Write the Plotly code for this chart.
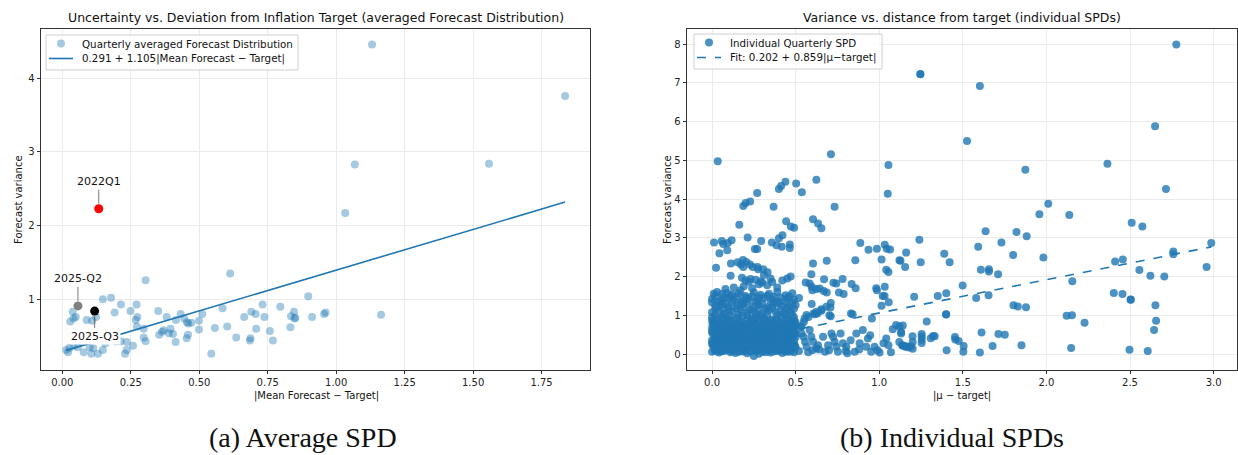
import plotly.graph_objects as go

BLUE = "#1f77b4"
FONT = "DejaVu Sans"

# ---------------- Left panel: averaged forecast distribution ----------------
avg_points = [
    (0.304, 1.26), (0.613, 1.35), (0.148, 1.00), (0.178, 1.02), (0.214, 0.93),
    (0.271, 0.93), (0.038, 0.83), (0.049, 0.76), (0.041, 0.74), (0.029, 0.70),
    (0.089, 0.72), (0.109, 0.71), (0.123, 0.76), (0.191, 0.82), (0.249, 0.84),
    (0.274, 0.76), (0.268, 0.72), (0.272, 0.63), (0.297, 0.60), (0.350, 0.84),
    (0.381, 0.76), (0.415, 0.72), (0.432, 0.80), (0.445, 0.74), (0.455, 0.69),
    (0.471, 0.68), (0.499, 0.71), (0.511, 0.80), (0.585, 0.88), (0.664, 0.76),
    (0.690, 0.83), (0.706, 0.80), (0.731, 0.93), (0.738, 0.76), (0.796, 0.90),
    (0.846, 0.83), (0.835, 0.77), (0.851, 0.75), (0.898, 1.04), (0.912, 0.76),
    (0.956, 0.80), (0.961, 0.82), (0.833, 0.62), (0.758, 0.57), (0.769, 0.44),
    (0.708, 0.60), (0.687, 0.47), (0.685, 0.44), (0.635, 0.48), (0.602, 0.63),
    (0.557, 0.61), (0.544, 0.26), (0.499, 0.59), (0.460, 0.67), (0.459, 0.52),
    (0.454, 0.47), (0.414, 0.42), (0.404, 0.53), (0.395, 0.60), (0.389, 0.54),
    (0.370, 0.58), (0.364, 0.56), (0.354, 0.52), (0.304, 0.43), (0.297, 0.48),
    (0.258, 0.37), (0.235, 0.42), (0.235, 0.31), (0.229, 0.26), (0.213, 0.43),
    (0.195, 0.43), (0.157, 0.40), (0.148, 0.31), (0.130, 0.26), (0.113, 0.34),
    (0.106, 0.26), (0.100, 0.35), (0.078, 0.28), (0.056, 0.35), (0.041, 0.37),
    (0.026, 0.34), (0.021, 0.28), (0.014, 0.31), (1.131, 4.46), (1.836, 3.76),
    (1.068, 2.83), (1.558, 2.84), (1.033, 2.17), (1.164, 0.79), (0.848, 0.74),
    (0.175, 0.45), (0.100, 0.44), (0.070, 0.42),
]
avg_x = [p[0] for p in avg_points]
avg_y = [p[1] for p in avg_points]

hl_labels = ["2022Q1", "2025-Q2", "2025-Q3"]
hl_x = [0.133, 0.057, 0.118]
hl_y = [2.23, 0.91, 0.84]
hl_colors = ["#ff0000", "#808080", "#000000"]
hl_offsets = [-27, -27, 25]

fit_avg_a, fit_avg_b = 0.291, 1.105
avg_legend = ["Quarterly averaged Forecast Distribution", "0.291 + 1.105|Mean Forecast \u2212 Target|"]

# ---------------- Right panel: individual SPDs ----------------
spd_dense = [
    (0.00, 0.06), (0.04, 0.04), (0.07, 0.08), (0.11, 0.05), (0.14, 0.03), (0.18, 0.07), (0.21, 0.02), (0.25, -0.05),
    (0.28, 0.01), (0.32, 0.05), (0.35, 0.04), (0.39, 0.08), (0.42, 0.03), (0.46, 0.06), (0.49, 0.05),
    (0.02, 0.12), (0.055, 0.10), (0.09, 0.14), (0.125, 0.11), (0.16, 0.13), (0.195, 0.09), (0.23, 0.12),
    (0.265, 0.10), (0.30, 0.14), (0.335, 0.11), (0.37, 0.13), (0.405, 0.12), (0.44, 0.10), (0.475, 0.13),
    (0.01, 0.19), (0.05, 0.22), (0.08, 0.17), (0.12, 0.21), (0.15, 0.24), (0.19, 0.18), (0.23, 0.20), (0.26, 0.16),
    (0.30, 0.23), (0.33, 0.19), (0.37, 0.21), (0.40, 0.17), (0.44, 0.22), (0.47, 0.20), (0.50, 0.18),
    (0.00, 0.28), (0.035, 0.26), (0.07, 0.30), (0.105, 0.27), (0.14, 0.29), (0.175, 0.25), (0.21, 0.28),
    (0.245, 0.30), (0.28, 0.26), (0.315, 0.29), (0.35, 0.27), (0.385, 0.30), (0.42, 0.25), (0.455, 0.28), (0.49, 0.27),
    (0.00, 0.36), (0.03, 0.33), (0.07, 0.38), (0.10, 0.34), (0.14, 0.36), (0.17, 0.32), (0.21, 0.37), (0.24, 0.35),
    (0.28, 0.33), (0.31, 0.38), (0.35, 0.34), (0.38, 0.36), (0.42, 0.32), (0.45, 0.37), (0.49, 0.35),
    (0.015, 0.43), (0.05, 0.41), (0.085, 0.45), (0.12, 0.42), (0.155, 0.44), (0.19, 0.40), (0.225, 0.43),
    (0.26, 0.45), (0.295, 0.41), (0.33, 0.44), (0.365, 0.42), (0.40, 0.45), (0.435, 0.40), (0.47, 0.43), (0.50, 0.44),
    (0.02, 0.50), (0.05, 0.48), (0.09, 0.52), (0.12, 0.49), (0.16, 0.51), (0.19, 0.47), (0.23, 0.53), (0.27, 0.50),
    (0.30, 0.48), (0.34, 0.52), (0.37, 0.49), (0.41, 0.51), (0.44, 0.47), (0.48, 0.50), (0.50, 0.53),
    (0.00, 0.58), (0.035, 0.56), (0.07, 0.60), (0.105, 0.57), (0.14, 0.59), (0.175, 0.55), (0.21, 0.58),
    (0.245, 0.60), (0.28, 0.56), (0.315, 0.59), (0.35, 0.57), (0.385, 0.60), (0.42, 0.55), (0.455, 0.58), (0.49, 0.57),
    (0.00, 0.66), (0.04, 0.63), (0.07, 0.67), (0.11, 0.64), (0.14, 0.66), (0.18, 0.62), (0.22, 0.68), (0.25, 0.65),
    (0.29, 0.63), (0.32, 0.67), (0.36, 0.64), (0.39, 0.66), (0.43, 0.62), (0.46, 0.65), (0.49, 0.67),
    (0.015, 0.73), (0.05, 0.71), (0.085, 0.75), (0.12, 0.72), (0.155, 0.74), (0.19, 0.70), (0.225, 0.73),
    (0.26, 0.75), (0.295, 0.71), (0.33, 0.74), (0.365, 0.72), (0.40, 0.75), (0.435, 0.70), (0.47, 0.73), (0.50, 0.74),
    (0.01, 0.80), (0.05, 0.78), (0.08, 0.82), (0.12, 0.79), (0.16, 0.81), (0.19, 0.77), (0.23, 0.83), (0.26, 0.80),
    (0.30, 0.78), (0.33, 0.82), (0.37, 0.79), (0.40, 0.81), (0.44, 0.77), (0.47, 0.80), (0.50, 0.82),
    (0.00, 0.87), (0.035, 0.85), (0.07, 0.89), (0.105, 0.86), (0.14, 0.88), (0.175, 0.84), (0.21, 0.87),
    (0.245, 0.89), (0.28, 0.85), (0.315, 0.88), (0.35, 0.86), (0.385, 0.89), (0.42, 0.84), (0.455, 0.87), (0.49, 0.86),
    (0.00, 0.95), (0.03, 0.92), (0.06, 0.97), (0.10, 0.90), (0.15, 0.94), (0.18, 0.98), (0.24, 0.91), (0.27, 0.96),
    (0.31, 0.93), (0.36, 0.89), (0.41, 0.97), (0.45, 0.92), (0.49, 0.95),
    (0.02, 1.01), (0.07, 1.03), (0.11, 0.99), (0.16, 1.02), (0.21, 1.00), (0.26, 1.04), (0.29, 0.99),
    (0.33, 1.02), (0.39, 1.01), (0.44, 1.03), (0.48, 1.00),
    (0.00, 1.08), (0.04, 1.12), (0.08, 1.05), (0.12, 1.10), (0.17, 1.14), (0.21, 1.07), (0.25, 1.11), (0.30, 1.04),
    (0.34, 1.13), (0.38, 1.09), (0.43, 1.06), (0.47, 1.12),
    (0.02, 1.17), (0.06, 1.19), (0.10, 1.16), (0.145, 1.18), (0.19, 1.20), (0.23, 1.16), (0.28, 1.18),
    (0.32, 1.17), (0.36, 1.19), (0.41, 1.16), (0.45, 1.18), (0.49, 1.17),
    (0.02, 1.24), (0.06, 1.28), (0.10, 1.22), (0.15, 1.26), (0.19, 1.30), (0.24, 1.23), (0.28, 1.27), (0.33, 1.21),
    (0.37, 1.29), (0.42, 1.25), (0.46, 1.22), (0.50, 1.27),
    (0.00, 1.33), (0.04, 1.35), (0.08, 1.31), (0.12, 1.34), (0.17, 1.32), (0.21, 1.36), (0.26, 1.33),
    (0.30, 1.31), (0.35, 1.35), (0.39, 1.32), (0.44, 1.34), (0.48, 1.33),
    (0.00, 1.42), (0.05, 1.38), (0.09, 1.44), (0.13, 1.40), (0.18, 1.37), (0.22, 1.43), (0.27, 1.39), (0.31, 1.45),
    (0.36, 1.41), (0.40, 1.36), (0.45, 1.43), (0.49, 1.40),
    (0.02, 1.49), (0.07, 1.47), (0.11, 1.50), (0.15, 1.48), (0.20, 1.46), (0.24, 1.49), (0.28, 1.47),
    (0.33, 1.50), (0.37, 1.48), (0.41, 1.46), (0.46, 1.49),
    (0.01, 1.56), (0.03, 1.60), (0.06, 1.55), (0.09, 1.58), (0.12, 1.54), (0.16, 1.57), (0.20, 1.50), (0.25, 1.59),
    (0.29, 1.53), (0.34, 1.56), (0.39, 1.60), (0.44, 1.52), (0.48, 1.57),
]
spd_dense_extra = [
    (0.018, 0.09), (0.052, 0.07), (0.088, 0.10), (0.122, 0.08), (0.158, 0.06), (0.192, 0.10), (0.228, 0.07),
    (0.262, 0.09), (0.298, 0.06), (0.332, 0.09), (0.368, 0.07), (0.402, 0.10), (0.438, 0.06), (0.472, 0.09),
    (0.003, 0.24), (0.037, 0.23), (0.072, 0.25), (0.108, 0.22), (0.142, 0.24), (0.178, 0.21), (0.212, 0.25),
    (0.248, 0.23), (0.282, 0.21), (0.318, 0.24), (0.352, 0.22), (0.388, 0.25), (0.422, 0.21), (0.458, 0.24), (0.495, 0.22),
    (0.018, 0.40), (0.052, 0.38), (0.088, 0.41), (0.122, 0.39), (0.158, 0.40), (0.192, 0.37), (0.228, 0.40),
    (0.262, 0.38), (0.298, 0.37), (0.332, 0.40), (0.368, 0.38), (0.402, 0.41), (0.438, 0.37), (0.472, 0.40),
    (0.003, 0.54), (0.037, 0.53), (0.072, 0.55), (0.108, 0.52), (0.142, 0.54), (0.178, 0.51), (0.212, 0.55),
    (0.248, 0.53), (0.282, 0.51), (0.318, 0.54), (0.352, 0.52), (0.388, 0.55), (0.422, 0.51), (0.458, 0.54), (0.495, 0.52),
    (0.018, 0.69), (0.052, 0.68), (0.088, 0.70), (0.122, 0.67), (0.158, 0.69), (0.192, 0.66), (0.228, 0.70),
    (0.262, 0.68), (0.298, 0.66), (0.332, 0.69), (0.368, 0.67), (0.402, 0.70), (0.438, 0.66), (0.472, 0.69),
    (0.003, 0.77), (0.072, 0.76), (0.142, 0.75), (0.212, 0.78), (0.282, 0.76), (0.352, 0.75), (0.422, 0.78), (0.495, 0.76),
]
spd_upper_left = [
    (0.08, 1.68), (0.13, 1.72), (0.19, 1.75), (0.24, 1.70), (0.28, 1.80), (0.30, 1.85), (0.33, 1.78), (0.36, 1.86),
    (0.39, 1.72), (0.42, 1.90), (0.45, 1.95), (0.47, 2.00), (0.35, 1.95), (0.26, 1.92), (0.22, 1.87), (0.17, 1.65),
    (0.111, 2.02), (0.179, 1.97), (0.20, 1.90), (0.23, 1.94), (0.29, 1.88), (0.31, 2.04),
    (0.034, 4.98), (0.711, 5.16), (1.055, 4.88), (1.051, 4.14), (0.733, 3.80), (0.624, 4.50), (0.503, 4.40),
    (0.537, 4.18), (0.439, 4.45), (0.413, 4.34), (0.400, 4.26), (0.270, 4.16), (0.228, 3.94), (0.201, 3.90),
    (0.187, 3.82), (0.368, 3.80), (0.163, 3.34), (0.443, 3.43), (0.471, 3.29), (0.491, 3.26), (0.604, 3.48),
    (0.634, 3.37), (0.654, 3.25), (0.213, 3.01), (0.012, 2.88), (0.058, 2.92), (0.067, 2.84), (0.117, 2.94),
    (0.094, 2.87), (0.044, 2.60), (0.091, 2.68), (0.024, 2.23), (0.294, 2.92), (0.256, 2.71), (0.270, 2.71),
    (0.358, 2.88), (0.386, 2.81), (0.417, 2.77), (0.465, 2.83), (0.465, 2.74), (0.400, 2.99), (0.421, 3.07),
    (0.113, 2.34), (0.153, 2.37), (0.173, 2.31), (0.185, 2.43), (0.205, 2.38), (0.187, 2.25), (0.227, 2.31),
    (0.243, 2.25), (0.272, 2.25), (0.276, 2.19), (0.306, 2.19), (0.332, 2.11),
]
spd_middle = [
    (0.686, 2.41), (0.857, 2.42), (0.887, 2.87), (0.936, 2.69), (0.986, 2.72), (1.033, 2.82), (1.045, 2.72),
    (1.065, 2.70), (1.014, 2.44), (1.121, 2.42), (1.042, 2.18), (1.055, 2.12), (0.604, 2.34), (0.670, 1.93),
    (0.726, 1.84), (0.743, 1.82), (0.781, 1.94), (0.759, 1.59), (0.787, 1.55), (0.835, 1.81), (0.859, 1.70),
    (0.710, 1.32), (0.594, 2.06), (0.584, 1.82), (0.596, 1.74), (0.600, 1.65), (0.624, 1.68), (0.644, 1.69),
    (0.668, 1.63), (0.686, 1.59), (0.596, 1.29), (0.606, 1.05), (0.630, 1.05), (0.654, 1.16), (0.684, 1.22),
    (0.708, 1.20), (0.565, 1.01), (0.577, 0.96), (0.553, 0.91), (0.831, 1.05), (0.841, 1.03), (0.702, 1.00),
    (0.956, 0.92), (0.982, 1.70), (0.986, 1.65), (1.033, 1.74), (1.021, 1.50), (1.032, 1.50), (1.057, 1.34),
    (1.014, 1.25), (0.616, 1.03), (0.624, 1.09), (0.654, 1.12), (0.710, 0.98), (0.535, 0.71), (0.549, 0.83),
    (0.520, 1.45), (0.560, 1.85),
]
spd_lower_mid = [
    (0.535, 0.53), (0.547, 0.45), (0.556, 0.32), (0.565, 0.19), (0.584, 0.62), (0.594, 0.45), (0.604, 0.32),
    (0.600, 0.10), (0.624, 0.15), (0.634, 0.23), (0.664, 0.45), (0.676, 0.06), (0.694, 0.23), (0.714, 0.53),
    (0.724, 0.45), (0.733, 0.32), (0.743, 0.19), (0.753, 0.06), (0.769, 0.53), (0.783, 0.28), (0.803, 0.19),
    (0.809, 0.02), (0.829, 0.36), (0.853, 0.06), (0.863, 0.53), (0.883, 0.28), (0.902, 0.62), (0.922, 0.19),
    (0.932, 0.40), (0.946, 0.49), (0.952, 0.06), (0.972, 0.19), (1.002, 0.04), (1.026, 0.28), (1.042, 0.40),
    (1.055, 0.23), (1.081, 0.64), (1.101, 0.75), (1.121, 0.71), (1.131, 0.53), (1.137, 0.23), (1.157, 0.19),
    (1.177, 0.17), (0.520, 0.08), (0.530, 0.70), (0.575, 0.05), (0.640, 0.12), (0.700, 0.10), (0.800, 0.08),
    (0.880, 0.12), (0.990, 0.10), (1.070, 0.05),
]
spd_right = [
    (2.777, 7.99), (1.246, 7.22), (1.246, 7.23), (1.602, 6.92), (2.650, 5.88), (1.525, 5.50), (1.874, 4.76),
    (2.365, 4.91), (2.715, 4.26), (2.011, 3.88), (1.958, 3.61), (2.137, 3.59), (2.510, 3.39), (2.574, 3.29),
    (1.636, 3.17), (1.821, 3.15), (1.882, 3.04), (1.240, 2.95), (1.592, 2.77), (1.731, 2.88), (2.986, 2.87),
    (1.161, 2.62), (1.389, 2.59), (1.801, 2.56), (1.982, 2.49), (2.759, 2.65), (2.759, 2.58), (1.127, 2.41),
    (1.248, 2.37), (1.421, 2.37), (1.155, 2.25), (2.411, 2.39), (2.457, 2.44), (2.958, 2.25), (1.608, 2.18),
    (1.656, 2.19), (1.656, 2.13), (1.711, 2.06), (2.556, 2.17), (2.622, 2.02), (2.705, 2.00), (2.155, 1.88),
    (1.499, 1.77), (1.209, 1.48), (1.350, 1.50), (1.401, 1.57), (1.580, 1.45), (1.654, 1.52), (2.403, 1.58),
    (2.455, 1.55), (2.504, 1.41), (2.504, 1.40), (1.803, 1.26), (1.829, 1.23), (1.878, 1.21), (2.652, 1.26),
    (1.400, 1.03), (1.400, 1.02), (2.121, 0.99), (2.153, 1.00), (2.228, 0.81), (1.141, 0.74), (1.284, 0.84),
    (2.656, 0.86), (2.644, 0.62), (1.131, 0.57), (1.199, 0.46), (1.254, 0.52), (1.254, 0.45), (1.254, 0.37),
    (1.254, 0.29), (1.308, 0.41), (1.322, 0.47), (1.332, 0.46), (1.453, 0.44), (1.455, 0.38), (1.475, 0.34),
    (1.505, 0.21), (1.503, 0.06), (1.403, 0.10), (1.612, 0.56), (1.713, 0.52), (1.751, 0.50), (1.678, 0.21),
    (1.602, 0.04), (1.851, 0.23), (2.148, 0.16), (2.497, 0.11), (2.606, 0.08), (1.120, 0.31), (1.140, 0.22),
    (1.160, 0.20), (1.190, 0.20), (1.200, 0.31), (1.200, 0.14),
]
ind_points = spd_dense + spd_dense_extra + spd_upper_left + spd_middle + spd_lower_mid + spd_right
ind_x = [p[0] for p in ind_points]
ind_y = [p[1] for p in ind_points]

fit_ind_a, fit_ind_b = 0.202, 0.859
ind_legend = ["Individual Quarterly SPD", "Fit: 0.202 + 0.859|\u03bc\u2212target|"]

# ---------------- Figure ----------------
W, H = 1238, 455
fig = go.Figure()

fig.add_trace(go.Scatter(
    x=avg_x, y=avg_y, mode="markers", name=avg_legend[0],
    marker=dict(color=BLUE, size=8, opacity=0.4, line=dict(width=0)),
    xaxis="x", yaxis="y"))
avg_line_x = [min(avg_x), max(avg_x)]
fig.add_trace(go.Scatter(
    x=avg_line_x, y=[fit_avg_a + fit_avg_b * v for v in avg_line_x], mode="lines",
    name=avg_legend[1], line=dict(color=BLUE, width=1.6), xaxis="x", yaxis="y"))
for lab, x, y, c in zip(hl_labels, hl_x, hl_y, hl_colors):
    fig.add_trace(go.Scatter(
        x=[x], y=[y], mode="markers", name=lab,
        marker=dict(color=c, size=9, line=dict(width=0)), xaxis="x", yaxis="y"))

fig.add_trace(go.Scatter(
    x=ind_x, y=ind_y, mode="markers", name=ind_legend[0],
    marker=dict(color=BLUE, size=8, opacity=0.8, line=dict(width=0)),
    xaxis="x2", yaxis="y2"))
ind_line_x = [min(ind_x), max(ind_x)]
fig.add_trace(go.Scatter(
    x=ind_line_x, y=[fit_ind_a + fit_ind_b * v for v in ind_line_x], mode="lines",
    name=ind_legend[1], line=dict(color=BLUE, width=1.6, dash="dash"), xaxis="x2", yaxis="y2"))

axis_style = dict(
    showline=True, mirror=True, linecolor="#333333", linewidth=0.9,
    ticks="outside", ticklen=3.5, tickwidth=0.8, tickcolor="#333333",
    showgrid=True, gridcolor="#ebebeb", gridwidth=0.8, zeroline=False,
    tickfont=dict(family=FONT, size=10, color="#222222"), automargin=False,
)

Y0, Y1 = 0.1868, 0.9363
fig.update_layout(
    width=W, height=H, margin=dict(l=0, r=0, t=0, b=0),
    paper_bgcolor="white", plot_bgcolor="white", showlegend=False,
    font=dict(family=FONT, size=10, color="#222222"),
    xaxis=dict(axis_style, domain=[0.0331, 0.4766], range=[-0.078, 1.927],
               tick0=0, dtick=0.25, tickformat=".2f", anchor="y"),
    yaxis=dict(axis_style, domain=[Y0, Y1], range=[0.04, 4.67], tick0=0, dtick=1, anchor="x"),
    xaxis2=dict(axis_style, domain=[0.5549, 0.9992], range=[-0.15, 3.14],
                tick0=0, dtick=0.5, tickformat=".1f", anchor="y2"),
    yaxis2=dict(axis_style, domain=[Y0, Y1], range=[-0.41, 8.39], tick0=0, dtick=1, anchor="x2"),
)

def px(xp):
    return xp / W

def py(yp):
    return 1 - yp / H

annotations = []
for lab, x, y, off in zip(hl_labels, hl_x, hl_y, hl_offsets):
    annotations.append(dict(
        x=x, y=y, xref="x", yref="y", text=lab, showarrow=True, arrowhead=0,
        arrowwidth=0.8, arrowcolor="#555555", ax=0, ay=off, standoff=5,
        bgcolor="white", font=dict(family=FONT, size=11, color="#111111")))

def paper_text(text, x, y, size, family=FONT, angle=0, anchor="center"):
    return dict(x=px(x), y=py(y), xref="paper", yref="paper", text=text,
                showarrow=False, xanchor=anchor, yanchor="middle", textangle=angle,
                font=dict(family=family, size=size, color="#111111"))

annotations += [
    paper_text("Uncertainty vs. Deviation from Inflation Target (averaged Forecast Distribution)", 316, 18, 12.5),
    paper_text("Variance vs. distance from target (individual SPDs)", 962, 18, 12.5),
    paper_text("|Mean Forecast \u2212 Target|", 316, 396, 10),
    paper_text("|\u03bc \u2212 target|", 962, 396, 10),
    paper_text("Forecast variance", 18, 200, 10, angle=-90),
    paper_text("Forecast variance", 667, 200, 10, angle=-90),
    paper_text("(a) Average SPD", 303, 437, 28, family="Liberation Serif"),
    paper_text("(b) Individual SPDs", 952, 437, 28, family="Liberation Serif"),
]

# hand-drawn legend boxes (matplotlib-style)
shapes = []
def add_legend(x0, y0, x1, y1, marker_opacity, dash, labels):
    shapes.append(dict(type="rect", xref="paper", yref="paper", layer="above",
                       x0=px(x0), x1=px(x1), y0=py(y1), y1=py(y0),
                       line=dict(color="#d0d0d0", width=1), fillcolor="rgba(255,255,255,0.8)"))
    mx, my = x0 + 15, y0 + 8.5
    shapes.append(dict(type="circle", xref="paper", yref="paper", layer="above",
                       x0=px(mx - 4), x1=px(mx + 4), y0=py(my + 4), y1=py(my - 4),
                       line=dict(width=0), fillcolor="rgba(31,119,180,%s)" % marker_opacity))
    ly = y0 + 23.5
    shapes.append(dict(type="line", xref="paper", yref="paper", layer="above",
                       x0=px(x0 + 3), x1=px(x0 + 27), y0=py(ly), y1=py(ly),
                       line=dict(color=BLUE, width=1.6, dash=dash)))
    annotations.append(paper_text(labels[0], x0 + 34, my, 10.3, anchor="left"))
    annotations.append(paper_text(labels[1], x0 + 34, ly, 10.3, anchor="left"))

add_legend(46, 35, 298, 70, 0.4, "solid", avg_legend)
add_legend(694, 34, 882, 69, 0.8, "dash", ind_legend)

fig.update_layout(annotations=annotations, shapes=shapes)

fig.write_html("out.html")
